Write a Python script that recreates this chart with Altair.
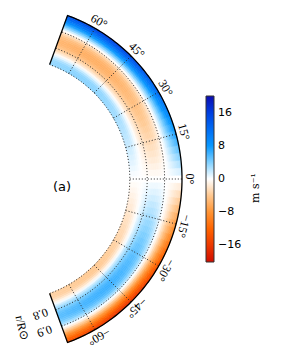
import math
import altair as alt
import pandas as pd

# ---------------- data ----------------
radii = [0.70, 0.71, 0.72, 0.73, 0.74, 0.75, 0.76, 0.77, 0.78, 0.79, 0.80,
         0.81, 0.82, 0.83, 0.84, 0.85, 0.86, 0.87, 0.88, 0.89, 0.90,
         0.91, 0.92, 0.93, 0.94, 0.95, 0.96, 0.97, 0.98, 0.99, 1.00]
radial_profile = [0.22, 0.23, 0.23, 0.22, 0.18, 0.12, 0.05, -0.03, -0.11, -0.18, -0.24,
                  -0.29, -0.33, -0.36, -0.37, -0.37, -0.35, -0.32, -0.27, -0.20, -0.11,
                  -0.01, 0.10, 0.23, 0.36, 0.49, 0.61, 0.72, 0.82, 0.91, 1.00]

latitudes = [-70, -67.5, -65, -62.5, -60, -57.5, -55, -52.5, -50, -47.5, -45,
             -42.5, -40, -37.5, -35, -32.5, -30, -27.5, -25, -22.5, -20,
             -17.5, -15, -12.5, -10, -7.5, -5, -2.5, 0, 2.5, 5, 7.5, 10,
             12.5, 15, 17.5, 20, 22.5, 25, 27.5, 30, 32.5, 35, 37.5, 40,
             42.5, 45, 47.5, 50, 52.5, 55, 57.5, 60, 62.5, 65, 67.5, 70]
surface_speed = [-14.0, -14.4, -14.8, -15.2, -15.6, -16.0, -16.3, -16.6, -16.8, -16.9, -16.8,
                 -16.5, -16.1, -15.6, -15.1, -14.5, -13.8, -13.0, -12.1, -11.1, -10.0,
                 -8.9, -7.7, -6.5, -5.3, -4.0, -2.7, -1.4, 0.0, 1.3, 2.6, 3.9, 5.1,
                 6.3, 7.4, 8.4, 9.3, 10.2, 11.0, 11.7, 12.4, 13.0, 13.6, 14.1, 14.6,
                 15.0, 15.3, 15.6, 15.8, 15.9, 15.9, 15.8, 15.6, 15.3, 15.0, 14.7, 14.4]

lat_grid = [-60, -45, -30, -15, 0, 15, 30, 45, 60]
lat_labels = ["\u221260\u00b0", "\u221245\u00b0", "\u221230\u00b0", "\u221215\u00b0", "0\u00b0",
              "15\u00b0", "30\u00b0", "45\u00b0", "60\u00b0"]
r_grid = [0.7, 0.8, 0.9]
r_ticks = [0.8, 0.9]
r_tick_labels = ["0.8", "0.9"]
lat_edge = [-70, 70]
r_edge = [0.7, 1.0]

cbar_ticks = [-16, -8, 0, 8, 16]
cbar_stops = [-20, -16, -12, -8, -4, 0, 4, 8, 12, 16, 20]
cbar_colors = ["#d00c00", "#ec3800", "#ff6400", "#ff9434", "#ffc890", "#ffffff",
               "#80d0ff", "#0898ff", "#006cf4", "#003ee0", "#0c0cb0"]

# ---------------- layout ----------------
R_PX = 174.0
W, H = 270, 342
CY = 171
CB_X, CB_Y, CB_LEN, CB_W = 198, 88, 166, 8

# ---------------- tables ----------------
rows = []
for i, r in enumerate(radii):
    r0 = max(r_edge[0], r - 0.005)
    r1 = min(r_edge[1], r + 0.005)
    for j, lat in enumerate(latitudes):
        t0 = max(lat_edge[0], lat - 1.25)
        t1 = min(lat_edge[1], lat + 1.25)
        rows.append(dict(r0=r0, r1=r1, t0=t0, t1=t1, v=radial_profile[i] * surface_speed[j]))
cells_df = pd.DataFrame(rows)

circ_rows = []
for g, r in enumerate(r_grid):
    for k in range(141):
        circ_rows.append(dict(g=g, k=k, r=r, lat=lat_edge[0] + k))
circ_df = pd.DataFrame(circ_rows)

spoke_rows = []
for g, lat in enumerate(lat_grid):
    for k, r in enumerate(r_edge):
        spoke_rows.append(dict(g=g, k=k, r=r, lat=lat))
spoke_df = pd.DataFrame(spoke_rows)

out_rows = [dict(k=0, r=r_edge[0], lat=lat_edge[0])]
for k in range(141):
    out_rows.append(dict(k=k + 1, r=r_edge[1], lat=lat_edge[0] + k))
out_rows.append(dict(k=200, r=r_edge[0], lat=lat_edge[1]))
out_df = pd.DataFrame(out_rows)

lab_df = pd.DataFrame(dict(lat=lat_grid, txt=lat_labels, r=[1.047] * len(lat_grid),
                           rot=[90 - l for l in lat_grid]))
rlab_df = pd.DataFrame(dict(r=r_ticks + [0.86], txt=r_tick_labels + ["r/R\u2299"],
                            lat=[-76.5, -76.5, -84.6], rot=[160, 160, 78]))
tick_df = pd.DataFrame(dict(v=cbar_ticks))

# ---------------- scales ----------------
xs = alt.Scale(domain=[0, W / R_PX], nice=False, zero=False)
ys = alt.Scale(domain=[-(H - CY) / R_PX, CY / R_PX], nice=False, zero=False)
theta_scale = alt.Scale(domain=[-90, 90], range=[math.pi, 0])
rad_scale = alt.Scale(type="linear", domain=[0, 1], range=[0, R_PX], zero=True, nice=False)
color_scale = alt.Scale(domain=cbar_stops, range=cbar_colors, interpolate="rgb")
cb_scale = alt.Scale(domain=[cbar_stops[0], cbar_stops[-1]], range=[CB_Y + CB_LEN, CB_Y],
                     nice=False, zero=False)

def polar(ch):
    return ch.transform_calculate(
        px="datum.r * cos(datum.lat * PI / 180)",
        py="datum.r * sin(datum.lat * PI / 180)",
    )

cells = alt.Chart(cells_df).mark_arc(strokeWidth=0.6).encode(
    theta=alt.Theta("t0:Q", scale=theta_scale, stack=False),
    theta2="t1:Q",
    radius=alt.Radius("r0:Q", scale=rad_scale),
    radius2="r1:Q",
    color=alt.Color("v:Q", scale=color_scale, legend=alt.Legend(
        orient="none", legendX=CB_X, legendY=CB_Y, direction="vertical", title=None,
        gradientLength=CB_LEN, gradientThickness=CB_W, values=cbar_ticks,
        labelFont="DejaVu Sans", labelFontSize=11, labelColor="black", labelOffset=4,
        labelOverlap=False, gradientStrokeColor="#333333", gradientStrokeWidth=1)),
    stroke=alt.Stroke("v:Q", scale=color_scale, legend=None),
    x=alt.value(0),
    y=alt.value(CY),
)

circles = polar(alt.Chart(circ_df)).mark_line(
    color="#222222", strokeWidth=1, strokeDash=[1, 2]).encode(
    x=alt.X("px:Q", scale=xs, axis=None),
    y=alt.Y("py:Q", scale=ys, axis=None),
    detail="g:N", order="k:Q")

spokes = polar(alt.Chart(spoke_df)).mark_line(
    color="#222222", strokeWidth=1, strokeDash=[1, 2]).encode(
    x=alt.X("px:Q", scale=xs, axis=None),
    y=alt.Y("py:Q", scale=ys, axis=None),
    detail="g:N", order="k:Q")

outline = polar(alt.Chart(out_df)).mark_line(color="black", strokeWidth=1.3).encode(
    x=alt.X("px:Q", scale=xs, axis=None),
    y=alt.Y("py:Q", scale=ys, axis=None),
    order="k:Q")

lat_text = polar(alt.Chart(lab_df)).mark_text(
    font="Liberation Serif", fontSize=12, align="center", baseline="middle", color="black").encode(
    x=alt.X("px:Q", scale=xs, axis=None),
    y=alt.Y("py:Q", scale=ys, axis=None),
    angle=alt.Angle("rot:Q", scale=None),
    text="txt:N")

r_text = polar(alt.Chart(rlab_df)).mark_text(
    font="Liberation Serif", fontSize=12, align="center", baseline="middle", color="black").encode(
    x=alt.X("px:Q", scale=xs, axis=None),
    y=alt.Y("py:Q", scale=ys, axis=None),
    angle=alt.Angle("rot:Q", scale=None),
    text="txt:N")

cb_ticks = alt.Chart(tick_df).mark_rule(color="#222222", strokeWidth=1).encode(
    y=alt.Y("v:Q", scale=cb_scale, axis=None),
    x=alt.value(CB_X + CB_W - 2.5),
    x2=alt.value(CB_X + CB_W),
)

unit_text = alt.Chart(pd.DataFrame(dict(t=["m s\u207b\u00b9"]))).mark_text(
    font="DejaVu Serif", fontSize=11, angle=270, align="center", baseline="middle",
    color="black").encode(x=alt.value(248), y=alt.value(180), text="t:N")

panel_text = alt.Chart(pd.DataFrame(dict(t=["(a)"]))).mark_text(
    font="DejaVu Sans", fontSize=13, align="center", baseline="middle",
    color="black").encode(x=alt.value(54), y=alt.value(179), text="t:N")

chart = alt.layer(cells, circles, spokes, outline, lat_text, r_text, cb_ticks,
                  unit_text, panel_text).properties(
    width=W, height=H, padding=0
).resolve_scale(color="independent", y="independent").configure_view(stroke=None)

chart.save("out.html", embed_options={"renderer": "svg", "actions": False})
